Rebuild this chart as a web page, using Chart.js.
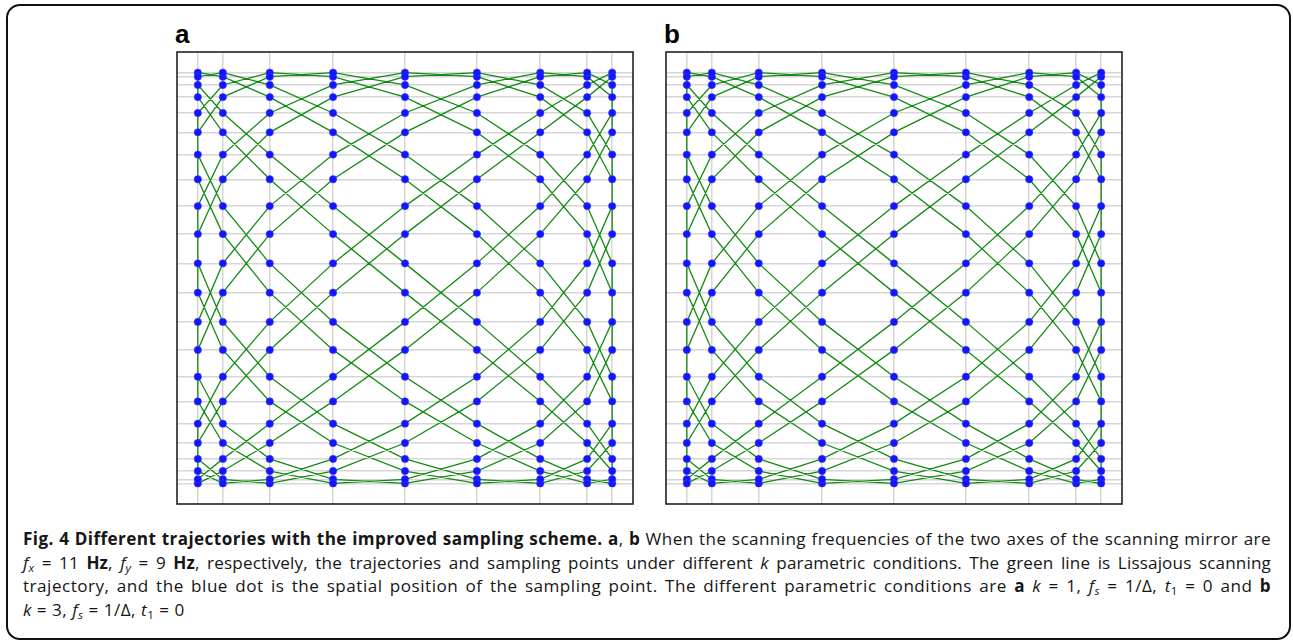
<!DOCTYPE html>
<html>
<head>
<meta charset="utf-8">
<script src="https://cdn.jsdelivr.net/npm/chart.js@4.4.1/dist/chart.umd.min.js"></script>
<style>
  body { margin: 0; background: #fff; width: 1293px; height: 642px; position: relative; overflow: hidden; }
  #frame { position: absolute; left: 6px; top: 4px; width: 1285px; height: 636px; box-sizing: border-box;
    border: 2.5px solid #111; border-radius: 14px; }
  canvas { position: absolute; }
  .lbl { position: absolute; font: bold 26px "Liberation Sans", Arial, sans-serif; color: #000; }
  #caption { position: absolute; left: 23px; top: 527px; width: 1248px; font-family: "Open Sans", sans-serif;
    font-size: 17.1px; line-height: 23.6px; color: #161616; }
  #caption .j { text-align: justify; text-align-last: justify; white-space: nowrap; }
  #caption i { font-style: italic; }
  #caption sub { font-size: 0.68em; vertical-align: -0.25em; line-height: 0; }
</style>
</head>
<body>
<div id="frame"></div>
<div class="lbl" style="left:175px; top:19px;">a</div>
<div class="lbl" style="left:664px; top:19px;">b</div>
<canvas id="chartA" width="470" height="466" style="left:170px; top:45px;"></canvas>
<canvas id="chartB" width="470" height="466" style="left:659px; top:45px;"></canvas>
<div id="caption">
  <div class="j" style="letter-spacing:0.42px"><b>Fig. 4 Different trajectories with the improved sampling scheme. a</b>, <b>b</b> When the scanning frequencies of the two axes of the scanning mirror are</div>
  <div class="j" style="letter-spacing:0.15px"><i>f</i><sub><i>x</i></sub> = 11 <b>Hz</b>, <i>f</i><sub><i>y</i></sub> = 9 <b>Hz</b>, respectively, the trajectories and sampling points under different <i>k</i> parametric conditions. The green line is Lissajous scanning</div>
  <div class="j" style="letter-spacing:0.5px">trajectory, and the blue dot is the spatial position of the sampling point. The different parametric conditions are <b>a</b> <i>k</i> = 1, <i>f</i><sub><i>s</i></sub> = 1/&Delta;, <i>t</i><sub>1</sub> = 0 and <b>b</b></div>
  <div style="letter-spacing:0.5px"><i>k</i> = 3, <i>f</i><sub><i>s</i></sub> = 1/&Delta;, <i>t</i><sub>1</sub> = 0</div>
</div>
<script>
// sampling columns (x) and rows (y)
const colVals = [-0.985, -0.866, -0.643, -0.342, 0, 0.342, 0.643, 0.866, 0.985];
const rowVals = [-0.997, -0.977, -0.937, -0.878, -0.801, -0.707, -0.599, -0.479, -0.349, -0.213, -0.071,
                 0.071, 0.213, 0.349, 0.479, 0.599, 0.707, 0.801, 0.878, 0.937, 0.977, 0.997];

// order in which the trajectory visits columns / rows (indices into the arrays above)
const colOrder = [4, 5, 6, 7, 8, 8, 7, 6, 5, 4, 3, 2, 1, 0, 0, 1, 2, 3];
const rowOrderA = [10, 8, 6, 4, 2, 0, 1, 3, 5, 7, 9, 11, 13, 15, 17, 19, 21, 20, 18, 16, 14, 12];
const rowOrderB = [12, 14, 16, 18, 20, 21, 19, 17, 15, 13, 11, 9, 7, 5, 3, 1, 0, 2, 4, 6, 8, 10];
const sampleCount = 198;

function trajectory(rowOrder) {
  const pts = [];
  for (let n = 0; n <= sampleCount; n++) {
    pts.push({ x: colVals[colOrder[n % colOrder.length]], y: rowVals[rowOrder[n % rowOrder.length]] });
  }
  return pts;
}

const framePlugin = {
  id: "frame",
  afterDraw(chart) {
    const { ctx, chartArea: a } = chart;
    ctx.save();
    ctx.strokeStyle = "#222";
    ctx.lineWidth = 1.6;
    ctx.strokeRect(a.left, a.top, a.right - a.left, a.bottom - a.top);
    ctx.restore();
  },
};

function makeChart(id, rowOrder) {
  const path = trajectory(rowOrder);
  new Chart(document.getElementById(id), {
    type: "scatter",
    data: {
      datasets: [
        {
          data: path.slice(0, sampleCount),
          showLine: false,
          pointRadius: 3.7,
          pointBackgroundColor: "#1414ff",
          pointBorderColor: "#4040ff",
          pointBorderWidth: 0.5,
        },
        {
          data: path,
          showLine: true,
          borderColor: "#138a13",
          borderWidth: 1.3,
          pointRadius: 0,
          tension: 0,
        },
      ],
    },
    options: {
      responsive: false,
      animation: false,
      layout: { padding: 7 },
      plugins: { legend: { display: false }, tooltip: { enabled: false } },
      scales: {
        x: {
          type: "linear",
          min: -1.084,
          max: 1.084,
          border: { display: false },
          grid: { color: "#d6d6d6", lineWidth: 1.5, drawTicks: false },
          ticks: { display: false },
          afterBuildTicks: (axis) => { axis.ticks = colVals.map((v) => ({ value: v })); },
          afterFit: (axis) => { axis.height = 0; },
        },
        y: {
          type: "linear",
          min: -1.097,
          max: 1.097,
          border: { display: false },
          grid: { color: "#d6d6d6", lineWidth: 1.5, drawTicks: false },
          ticks: { display: false },
          afterBuildTicks: (axis) => { axis.ticks = rowVals.map((v) => ({ value: v })); },
          afterFit: (axis) => { axis.width = 0; },
        },
      },
    },
    plugins: [framePlugin],
  });
}

makeChart("chartA", rowOrderA);
makeChart("chartB", rowOrderB);
</script>
</body>
</html>
